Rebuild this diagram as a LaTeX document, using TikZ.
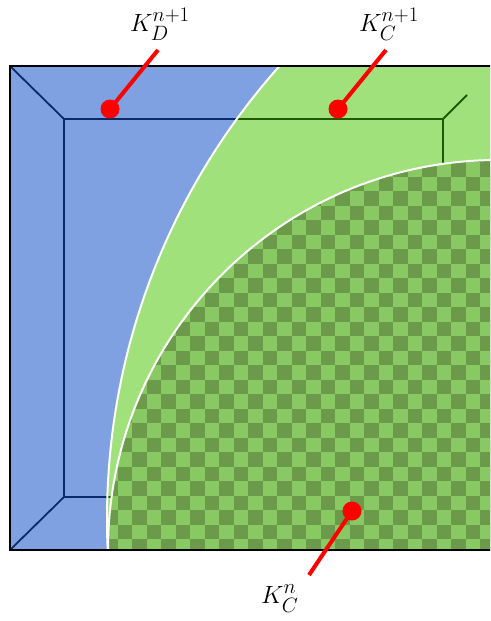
\documentclass[tikz,border=0pt]{standalone}
\usepackage{amsmath}
\definecolor{blueR}{HTML}{7FA1E1}
\definecolor{greenR}{HTML}{A1E17B}
\definecolor{chkD}{HTML}{6A9A4A}
\definecolor{chkL}{HTML}{88C963}
\definecolor{navyL}{HTML}{0A2A6A}
\definecolor{dgreenL}{HTML}{1E5A00}
\definecolor{pinred}{HTML}{FF0000}
\tikzset{
  innerline/.style={line width=1.8pt},
  arcline/.style={draw=white,line width=2pt},
  pin/.style={circle,fill=pinred,inner sep=0pt,minimum size=19pt},
  pinline/.style={draw=pinred,line width=4pt},
  lab/.style={font=\fontsize{29}{34}\selectfont,inner sep=0pt,anchor=base west}
}
\begin{document}
\begin{tikzpicture}[x=1pt,y=-1pt]
\useasboundingbox (0,0) rectangle (490,621);
\clip (0,0) rectangle (490,621);
% blue base
\fill[blueR] (10,66) rectangle (497,550);
\draw[innerline,navyL] (64,119) rectangle (443,497);
\draw[innerline,navyL] (10,66) -- (64,119);
\draw[innerline,navyL] (10,550) -- (64,497);
% green region
\begin{scope}
  \clip (10,66) rectangle (497,550);
  \fill[greenR] (788,519) circle (681pt);
  \clip (788,519) circle (681pt);
  \draw[innerline,dgreenL] (64,119) rectangle (443,497);
  \draw[innerline,dgreenL] (443,119) -- (467,95);
\end{scope}
% checkered region
\begin{scope}
  \clip (10,66) rectangle (497,550);
  \clip (498,550) circle (390pt);
  \fill[chkD] (10,66) rectangle (497,550);
  \foreach \i in {-21,...,6}{
    \foreach \j in {-22,...,5}{
      \pgfmathtruncatemacro\chkp{mod(\i+\j+100,2)}
      \ifnum\chkp=0
        \fill[chkL] ({407.5+14.5*\i},{481+14.5*\j}) rectangle +(14.5,14.5);
      \fi
    }
  }
\end{scope}
% white arcs
\begin{scope}
  \clip (10,66) rectangle (497,550);
  \draw[arcline] (788,519) circle (681pt);
  \draw[arcline] (498,550) circle (390pt);
\end{scope}
% outer border
\draw[line width=2pt,black] (10,66) rectangle (497,550);
% pins
\node[pin] (p1) at (110,109) {};
\node[pin] (p2) at (338,109) {};
\node[pin] (p3) at (352,511) {};
\coordinate (e1) at (158,50);
\coordinate (e2) at (386,50);
\coordinate (e3) at (309,575);
\draw[pinline] (p1.center) -- (e1);
\draw[pinline] (p2.center) -- (e2);
\draw[pinline] (p3.center) -- (e3);
\node[lab] (l1) at (130,31) {$K_D^{n+1}$};
\node[lab] (l2) at (359,31) {$K_C^{n+1}$};
\node[lab] (l3) at (261,603) {$K_C^{n}$};
\end{tikzpicture}
\end{document}
